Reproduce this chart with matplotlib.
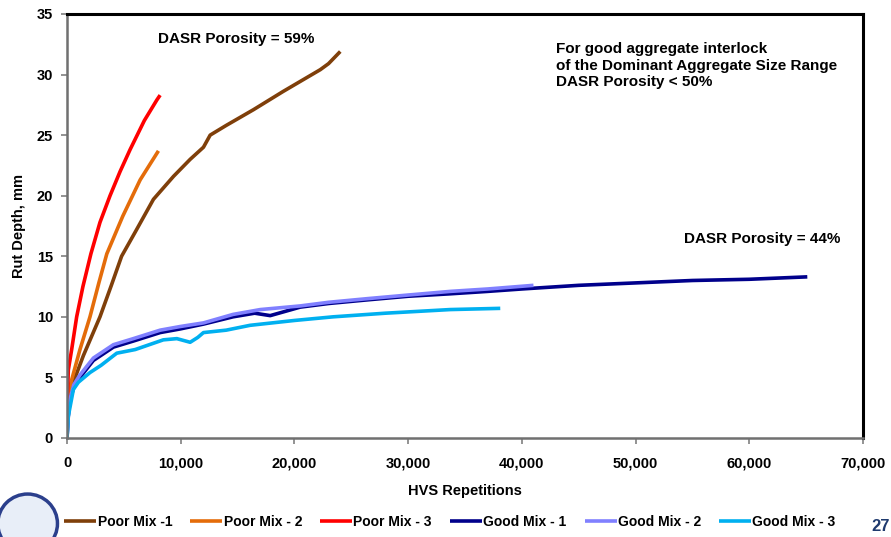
import matplotlib
matplotlib.use("Agg")
import matplotlib.pyplot as plt
from matplotlib.patches import Ellipse
from matplotlib.ticker import FuncFormatter

# HVS repetitions / rut depth (mm)
poor1_x = [0, 200, 560, 1440, 2900, 3900, 4800, 6000, 7600, 9370, 10830, 12000, 12590, 14000, 16400, 19000, 22270, 23000, 24030]
poor1_y = [2.0, 3.5, 4.6, 6.8, 10.0, 12.6, 15.0, 17.0, 19.7, 21.6, 23.0, 24.0, 25.0, 25.8, 27.1, 28.6, 30.4, 30.9, 31.9]

poor2_x = [0, 150, 410, 1140, 2020, 2800, 3500, 4900, 6430, 7300, 8040]
poor2_y = [3.0, 3.8, 4.8, 7.3, 10.0, 12.8, 15.2, 18.3, 21.3, 22.6, 23.7]

poor3_x = [0, 115, 410, 850, 1400, 2100, 2900, 3785, 4670, 5545, 6800, 7900, 8190]
poor3_y = [2.3, 5.6, 7.3, 10.0, 12.5, 15.2, 17.8, 20.0, 22.0, 23.8, 26.2, 27.9, 28.3]

good1_x = [0, 115, 260, 600, 1140, 2320, 4080, 5830, 8190, 9950, 12000, 14600, 16500,
           17870, 19000, 20500, 23000, 26400, 30000, 33700, 37000, 40000, 45000, 50000, 55000, 60000, 65100]
good1_y = [0, 1.8, 3.1, 4.2, 5.0, 6.4, 7.5, 8.0, 8.7, 9.0, 9.4, 10.0, 10.3,
           10.1, 10.4, 10.8, 11.1, 11.4, 11.7, 11.9, 12.1, 12.3, 12.6, 12.8, 13.0, 13.1, 13.3]

good2_x = [0, 115, 260, 600, 1140, 2320, 4080, 5830, 8190, 9950, 12000, 14600, 17000,
           20500, 23000, 26400, 30000, 33700, 37000, 41020]
good2_y = [0, 1.9, 3.2, 4.4, 5.2, 6.6, 7.7, 8.2, 8.9, 9.2, 9.5, 10.2, 10.6,
           10.9, 11.2, 11.5, 11.8, 12.1, 12.3, 12.6]

good3_x = [0, 115, 560, 1000, 2020, 3000, 4375, 6000, 8470, 9660, 10830, 11500, 12000,
           14000, 16100, 20000, 23400, 28000, 33700, 38100]
good3_y = [0, 1.8, 4.0, 4.6, 5.4, 6.0, 7.0, 7.3, 8.1, 8.2, 7.9, 8.3, 8.7,
           8.9, 9.3, 9.7, 10.0, 10.3, 10.6, 10.7]

series = [
    ("Poor Mix -1", poor1_x, poor1_y, "#7f3f0a"),
    ("Poor Mix - 2", poor2_x, poor2_y, "#e46c0a"),
    ("Poor Mix - 3", poor3_x, poor3_y, "#ff0000"),
    ("Good Mix - 1", good1_x, good1_y, "#00008b"),
    ("Good Mix - 2", good2_x, good2_y, "#8080ff"),
    ("Good Mix - 3", good3_x, good3_y, "#00b0f0"),
]

plt.rcParams["font.family"] = ["Liberation Sans", "DejaVu Sans"]
plt.rcParams["font.weight"] = "bold"

fig = plt.figure(figsize=(8.91, 5.37), dpi=100)
ax = fig.add_axes([0.0752, 0.1844, 0.8934, 0.7896])

for label, xs, ys, color in series:
    ax.plot(xs, ys, color=color, linewidth=2.6, label=label,
            solid_capstyle="butt", solid_joinstyle="round")

ax.set_xlim(0, 70000)
ax.set_ylim(0, 35)
ax.set_xticks(range(0, 70001, 10000))
ax.set_yticks(range(0, 36, 5))
ax.xaxis.set_major_formatter(FuncFormatter(lambda v, p: f"{int(v):,}"))
ax.tick_params(axis="both", direction="out", length=4, width=1.2, color="#808080",
               labelsize=10.5)
ax.tick_params(axis="x", pad=9)
ax.tick_params(axis="y", pad=6)
for lab in ax.get_xticklabels() + ax.get_yticklabels():
    lab.set_fontweight("bold")

for side in ("left", "bottom"):
    ax.spines[side].set_color("#707070")
    ax.spines[side].set_linewidth(1.8)
for side in ("top", "right"):
    ax.spines[side].set_color("black")
    ax.spines[side].set_linewidth(2.2)

ax.set_xlabel("HVS Repetitions", fontsize=10.5, fontweight="bold", labelpad=10)
ax.set_ylabel("Rut Depth, mm", fontsize=10.5, fontweight="bold", labelpad=8)

ax.text(14900, 32.9, "DASR Porosity = 59%", ha="center", va="center",
        fontsize=11, fontweight="bold")
ax.text(43000, 32.7, "For good aggregate interlock\nof the Dominant Aggregate Size Range\nDASR Porosity < 50%",
        ha="left", va="top", fontsize=11, fontweight="bold", linespacing=1.25)
ax.text(68000, 16.4, "DASR Porosity = 44%", ha="right", va="center",
        fontsize=11, fontweight="bold")

fig.legend(loc="center", bbox_to_anchor=(0.505, 0.028), ncol=6, frameon=False,
           handlelength=2.3, handletextpad=0.1, columnspacing=1.3,
           prop={"weight": "bold", "size": 10})

# state seal in the bottom-left corner
fig.patches.append(Ellipse((0.031, 0.025), 0.067, 0.11, transform=fig.transFigure,
                           facecolor="#e8eef8", edgecolor="#2b3f8c", linewidth=2.5))

fig.text(0.999, 0.006, "27", ha="right", va="bottom", fontsize=12,
         fontweight="bold", color="#1f3a6e")

fig.savefig("out.png", dpi=100)
